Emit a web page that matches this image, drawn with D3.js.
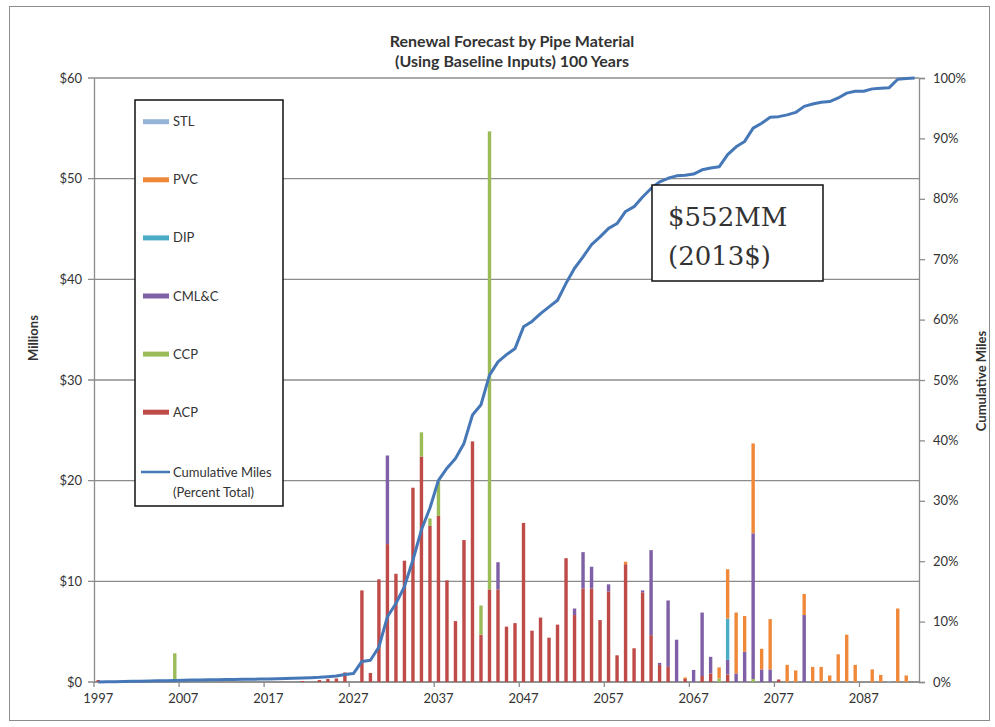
<!DOCTYPE html>
<html>
<head>
<meta charset="utf-8">
<script src="https://cdn.jsdelivr.net/npm/d3@7"></script>
<style>
  html, body { margin: 0; padding: 0; background: #fff; }
  svg { display: block; }
  text { font-family: Lato, "Open Sans", sans-serif; fill: #333; }
</style>
</head>
<body>
<svg id="chart" width="995" height="727"></svg>
<script>
// ---- Data ----
const years = d3.range(1997, 2094); // categories 1997..2093

const ACP = [
  0.2,0,0,0,0,0,0,0,0,0,            // 1997-2006
  0,0,0,0,0,0,0,0,0,0,              // 2007-2016
  0,0,0,0,0.1,0,0.2,0.3,0.35,0.95,  // 2017-2026
  0,9.1,0.9,10.2,13.7,10.75,12.05,19.3,22.4,15.5, // 2027-2036
  16.5,10.1,6.05,14.1,23.9,4.7,9.2,9.2,5.5,5.85,  // 2037-2046
  15.8,5.1,6.4,4.4,5.7,12.3,6.65,9.3,9.3,6.15,    // 2047-2056
  9.0,2.65,11.7,3.35,8.9,4.65,1.7,1.5,0,0.3,      // 2057-2066
  0,0.6,0.85,0,0.75,0,0,0,0,0,      // 2067-2076
  0.25,0,0,0,0,0,0,0,0,0,           // 2077-2086
  0,0,0,0,0,0,0                     // 2087-2093
];
const CCP = [
  0,0,0,0,0,0,0,0,0,2.85,
  0,0,0,0,0,0,0,0,0,0,
  0,0,0,0,0,0,0,0,0,0,
  0,0,0,0,0,0,0,0,2.4,0.75,
  3.4,0,0,0,0,2.9,45.5,0,0,0,
  0,0,0,0,0,0,0,0,0,0,
  0,0,0,0,0,0,0,0,0,0,
  0,0,0,0.35,0,0,0,0.3,0,0,
  0,0,0,0,0,0,0,0,0,0,
  0,0,0,0,0,0,0
];
const CMLC = [
  0,0,0,0,0,0,0,0,0,0,
  0,0,0,0,0,0,0,0,0,0,
  0,0,0,0,0,0,0,0,0,0,
  0,0,0,0,8.8,0,0,0,0,0,
  0,0,0,0,0,0,0,2.7,0,0,
  0,0,0,0,0,0,0.65,3.6,2.15,0,
  0.7,0,0,0,0.2,8.45,0.2,6.6,4.2,0,
  1.2,6.3,1.65,0,1.45,0.85,3.0,14.47,1.25,1.25,
  0,0,0,6.65,0,0,0,0,0,0,
  0,0,0,0,0,0,0
];
const DIP = [
  0,0,0,0,0,0,0,0,0,0,
  0,0,0,0,0,0,0,0,0,0,
  0,0,0,0,0,0,0,0,0,0,
  0,0,0,0,0,0,0,0,0,0,
  0,0,0,0,0,0,0,0,0,0,
  0,0,0,0,0,0,0,0,0,0,
  0,0,0,0,0,0,0,0,0,0,
  0,0,0,0,4.1,0,0,0,0,0,
  0,0,0,0,0,0,0,0,0,0,
  0,0,0,0,0,0,0
];
const PVC = [
  0,0,0,0,0,0,0,0,0,0,
  0,0,0,0,0,0,0,0,0,0,
  0,0,0,0,0,0,0,0,0,0,
  0,0,0,0,0,0,0,0,0,0,
  0,0,0,0,0,0,0,0,0,0,
  0,0,0,0,0,0,0,0,0,0,
  0,0,0.25,0,0,0,0,0,0,0.15,
  0,0,0,1.1,4.9,6.05,3.55,8.93,2.05,5.0,
  0,1.7,1.15,2.1,1.5,1.5,0.65,2.75,4.7,1.7,
  0,1.25,0.7,0,7.3,0.65,0
];
const STL = [
  0,0,0,0,0,0,0,0,0,0,
  0,0,0,0,0,0,0,0,0,0,
  0,0,0,0,0,0,0,0,0,0,
  0,0,0,0,0,0,0,0,0,0,
  0,0,0,0,0,0,0,0,0,0,
  0,0,0,0,0,0,0,0,0,0,
  0,0,0,0,0,0,0,0,0,0,
  0,0,0,0,0,0,0,0,0,0,
  0,0,0,0,0,0,0,0,0,0,
  0,0,0,0.08,0,0,0
];
const cumulativePct = [
  0,0.03,0.06,0.08,0.11,0.14,0.17,0.19,0.22,0.26,
  0.3,0.32,0.33,0.36,0.38,0.4,0.41,0.44,0.46,0.48,
  0.5,0.55,0.6,0.62,0.66,0.72,0.78,0.88,1.0,1.25,
  1.4,3.4,3.6,5.8,10.8,13.0,15.8,20.2,25.2,28.8,
  33.4,35.4,37.0,39.5,44.2,45.9,50.8,53.0,54.2,55.2,
  58.8,59.7,61.0,62.1,63.2,66.0,68.5,70.4,72.4,73.7,
  75.1,75.9,77.9,78.7,80.3,81.7,82.8,83.4,83.8,83.9,
  84.1,84.8,85.1,85.3,87.3,88.6,89.5,91.7,92.5,93.5,
  93.6,93.9,94.3,95.3,95.7,96.0,96.1,96.7,97.5,97.8,
  97.8,98.2,98.3,98.4,99.8,99.9,100
];

const seriesKeys = ["ACP", "CCP", "CMLC", "DIP", "PVC", "STL"]; // bottom -> top
const seriesValues = { ACP, CCP, CMLC, DIP, PVC, STL };
const seriesColors = { STL: "#95B3D7", PVC: "#F0883A", DIP: "#4BACC6", CMLC: "#7F5FA6", CCP: "#9BBB59", ACP: "#BE4B48" };
const legendItems = [
  { key: "STL", label: "STL" },
  { key: "PVC", label: "PVC" },
  { key: "DIP", label: "DIP" },
  { key: "CMLC", label: "CML&C" },
  { key: "CCP", label: "CCP" },
  { key: "ACP", label: "ACP" }
];
const leftTicks = [0, 10, 20, 30, 40, 50, 60];
const rightTicks = [0, 10, 20, 30, 40, 50, 60, 70, 80, 90, 100];
const xLabelYears = [1997, 2007, 2017, 2027, 2037, 2047, 2057, 2067, 2077, 2087];
const titleLines = ["Renewal Forecast by Pipe Material", "(Using Baseline Inputs) 100 Years"];
const noteLines = ["$552MM", "(2013$)"];

// ---- Layout ----
const svg = d3.select("#chart");
const plot = { left: 94, right: 919, top: 78, bottom: 682 };

svg.append("rect").attr("x", 9.5).attr("y", 6.5).attr("width", 980).attr("height", 714)
  .attr("fill", "#fff").attr("stroke", "#8c8c8c").attr("stroke-width", 1);

const x = d3.scaleBand().domain(years).range([plot.left, plot.right])
  .paddingInner(0.6).paddingOuter(0.3);
const yL = d3.scaleLinear().domain([0, 60]).range([plot.bottom, plot.top]);
const yR = d3.scaleLinear().domain([0, 100]).range([plot.bottom, plot.top]);
const step = x.step();
const boundary = yr => x(yr) - step * x.paddingInner() / 2;
const center = yr => x(yr) + x.bandwidth() / 2;

const gridColor = "#8c8c8c";

// gridlines
svg.append("g").selectAll("line").data(leftTicks).join("line")
  .attr("x1", plot.left - 6).attr("x2", plot.right)
  .attr("y1", d => yL(d)).attr("y2", d => yL(d))
  .attr("stroke", gridColor).attr("stroke-width", 1.3);

// left axis
const leftAxis = d3.axisLeft(yL).tickValues(leftTicks).tickSize(0).tickPadding(12)
  .tickFormat(d => "$" + d);
const gL = svg.append("g").attr("transform", `translate(${plot.left},0)`).call(leftAxis);
gL.select(".domain").attr("stroke", gridColor).attr("stroke-width", 1.3);
gL.selectAll("text").style("font-size", "13px").attr("fill", "#333").attr("font-family", "Lato");

// right axis
const rightAxis = d3.axisRight(yR).tickValues(rightTicks).tickSize(6).tickPadding(8)
  .tickFormat(d => d + "%");
const gR = svg.append("g").attr("transform", `translate(${plot.right},0)`).call(rightAxis);
gR.select(".domain").attr("stroke", gridColor).attr("stroke-width", 1.3);
gR.selectAll(".tick line").attr("stroke", gridColor).attr("stroke-width", 1.3);
gR.selectAll("text").style("font-size", "13px").attr("fill", "#333").attr("font-family", "Lato");

// bottom axis
const bottomAxis = d3.axisBottom(x).tickValues(xLabelYears).tickSize(0).tickPadding(12);
const gB = svg.append("g").attr("transform", `translate(0,${plot.bottom})`).call(bottomAxis);
gB.select(".domain").remove();
gB.selectAll("text").style("font-size", "13px").attr("fill", "#333").attr("font-family", "Lato");
svg.append("g").selectAll("line").data(xLabelYears).join("line")
  .attr("x1", d => boundary(d)).attr("x2", d => boundary(d))
  .attr("y1", plot.bottom).attr("y2", plot.bottom + 5)
  .attr("stroke", gridColor).attr("stroke-width", 1.3);
svg.append("line").attr("x1", plot.left).attr("x2", plot.right)
  .attr("y1", plot.bottom).attr("y2", plot.bottom)
  .attr("stroke", gridColor).attr("stroke-width", 1.3);

// stacked bars
const table = years.map((yr, i) => {
  const row = { year: yr };
  seriesKeys.forEach(k => row[k] = seriesValues[k][i]);
  return row;
});
const stacked = d3.stack().keys(seriesKeys)(table);
svg.append("g").selectAll("g").data(stacked).join("g")
  .attr("fill", d => seriesColors[d.key])
  .selectAll("rect").data(d => d.filter(s => s[1] - s[0] > 0)).join("rect")
  .attr("x", d => x(d.data.year))
  .attr("width", x.bandwidth())
  .attr("y", d => yL(d[1]))
  .attr("height", d => yL(d[0]) - yL(d[1]));

// cumulative line
const line = d3.line().x((d, i) => center(years[i])).y(d => yR(d));
svg.append("path").datum(cumulativePct).attr("d", line)
  .attr("fill", "none").attr("stroke", "#4678B8").attr("stroke-width", 3)
  .attr("stroke-linejoin", "round");

// title
svg.append("g").selectAll("text").data(titleLines).join("text")
  .attr("x", 512).attr("y", (d, i) => 47 + i * 20)
  .attr("text-anchor", "middle").style("font-size", "16px").style("font-weight", "bold")
  .text(d => d);

// axis titles
svg.append("text").attr("transform", "translate(38,338) rotate(-90)")
  .attr("text-anchor", "middle").style("font-size", "13px").style("font-weight", "bold")
  .text("Millions");
svg.append("text").attr("transform", "translate(986,381) rotate(-90)")
  .attr("text-anchor", "middle").style("font-size", "13px").style("font-weight", "bold")
  .text("Cumulative Miles");

// legend
const lg = svg.append("g");
lg.append("rect").attr("x", 135).attr("y", 100).attr("width", 148).attr("height", 406)
  .attr("fill", "#fff").attr("stroke", "#111").attr("stroke-width", 1.5);
legendItems.forEach((it, i) => {
  const cy = 121.7 + i * 58.1;
  lg.append("rect").attr("x", 143).attr("y", cy - 2.5).attr("width", 26).attr("height", 5)
    .attr("fill", seriesColors[it.key]);
  lg.append("text").attr("x", 173).attr("y", cy + 4.5).style("font-size", "13px").text(it.label);
});
lg.append("line").attr("x1", 141).attr("x2", 170).attr("y1", 472).attr("y2", 472)
  .attr("stroke", "#4678B8").attr("stroke-width", 2.5);
lg.append("text").attr("x", 173).attr("y", 476.5).style("font-size", "13px").text("Cumulative Miles");
lg.append("text").attr("x", 173).attr("y", 496.5).style("font-size", "13px").text("(Percent Total)");

// note box
const nb = svg.append("g");
nb.append("rect").attr("x", 652).attr("y", 185).attr("width", 171).attr("height", 96)
  .attr("fill", "#fff").attr("stroke", "#111").attr("stroke-width", 1.5);
nb.selectAll("text").data(noteLines).join("text")
  .attr("x", 668).attr("y", (d, i) => 226 + i * 39)
  .style("font-family", "'DejaVu Serif', serif").style("font-size", "26px").attr("fill", "#000")
  .text(d => d);
</script>
</body>
</html>
